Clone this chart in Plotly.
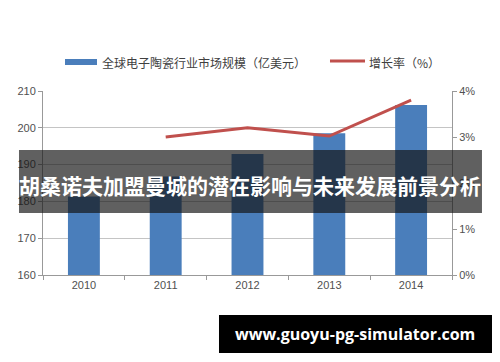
import plotly.graph_objects as go

years = ["2010", "2011", "2012", "2013", "2014"]
market_size = [181.3, 186.8, 192.9, 198.5, 206.2]
growth_rate = [None, 3.0, 3.2, 3.02, 3.8]
left_ticks = [160, 170, 180, 190, 200, 210]
right_ticks = [0, 1, 2, 3, 4]
right_labels = ["0%", "1%", "2%", "3%", "4%"]

bar_name = "全球电子陶瓷行业市场规模（亿美元）"
line_name = "增长率（%）"
title_text = "胡桑诺夫加盟曼城的潜在影响与未来发展前景分析"
url_text = "www.guoyu-pg-simulator.com"

bar_color = "#4a7ebb"
line_color = "#c0504d"

fig = go.Figure()
fig.add_trace(go.Bar(x=years, y=market_size, name=bar_name,
                     marker=dict(color=bar_color, line=dict(width=0)), width=0.39))
fig.add_trace(go.Scatter(x=years, y=growth_rate, name=line_name, yaxis="y2",
                         mode="lines", line=dict(color=line_color, width=3)))

tickfont = dict(family="Liberation Sans, Arial, sans-serif", size=11, color="#505050")

fig.update_layout(
    width=500, height=362,
    margin=dict(l=43, r=48, t=91, b=87),
    paper_bgcolor="white", plot_bgcolor="white",
    showlegend=False,
    xaxis=dict(type="category", tickfont=tickfont, showline=True, linecolor="#999999",
               ticks="outside", ticklen=4, tickcolor="#999999", tickson="boundaries",
               showgrid=False),
    yaxis=dict(range=[160, 210], tickvals=left_ticks, tickfont=tickfont,
               showline=True, linecolor="#999999", ticks="outside", ticklen=4,
               tickcolor="#999999", gridcolor="#c4c4c4", gridwidth=1, zeroline=False),
    yaxis2=dict(range=[0, 4], tickvals=right_ticks, ticktext=right_labels,
                overlaying="y", side="right", tickfont=tickfont, showline=True,
                linecolor="#999999", ticks="outside", ticklen=4, tickcolor="#999999",
                showgrid=False, zeroline=False),
    bargap=0.6,
)

# custom legend (wide swatches as in the reference)
legfont = dict(family="Noto Sans CJK SC", size=12, color="#404040")
fig.add_shape(type="rect", xref="paper", yref="paper", x0=0.0538, x1=0.132,
              y0=1.1413, y1=1.1739, fillcolor=bar_color, line=dict(width=0))
fig.add_annotation(text=bar_name, xref="paper", yref="paper", x=0.1394, y=1.1576,
                   xanchor="left", yanchor="middle", showarrow=False, font=legfont)
fig.add_shape(type="line", xref="paper", yref="paper", x0=0.7017, x1=0.7873,
              y0=1.163, y1=1.163, line=dict(color=line_color, width=3))
fig.add_annotation(text=line_name, xref="paper", yref="paper", x=0.7922, y=1.1576,
                   xanchor="left", yanchor="middle", showarrow=False, font=legfont)

# dark title banner over the chart
fig.add_shape(type="rect", xref="paper", yref="paper",
              x0=-0.0587, x1=1.0733, y0=0.337, y1=0.679,
              fillcolor="rgba(20,20,20,0.68)", line=dict(width=0), layer="above")
fig.add_annotation(text="<b>" + title_text + "</b>", xref="paper", yref="paper",
                   x=0.5073, y=0.49, showarrow=False, xanchor="center", yanchor="middle",
                   font=dict(family="Noto Sans CJK SC", size=21, color="white"))
# url banner
fig.add_shape(type="rect", xref="paper", yref="paper",
              x0=0.4303, x1=1.0978, y0=-0.4239, y1=-0.2174,
              fillcolor="black", line=dict(width=0), layer="above")
fig.add_annotation(text="<b>" + url_text + "</b>", xref="paper", yref="paper",
                   x=0.764, y=-0.3206, showarrow=False, xanchor="center", yanchor="middle",
                   font=dict(family="Open Sans, DejaVu Sans", size=16, color="white"))

fig.write_html("out.html")
